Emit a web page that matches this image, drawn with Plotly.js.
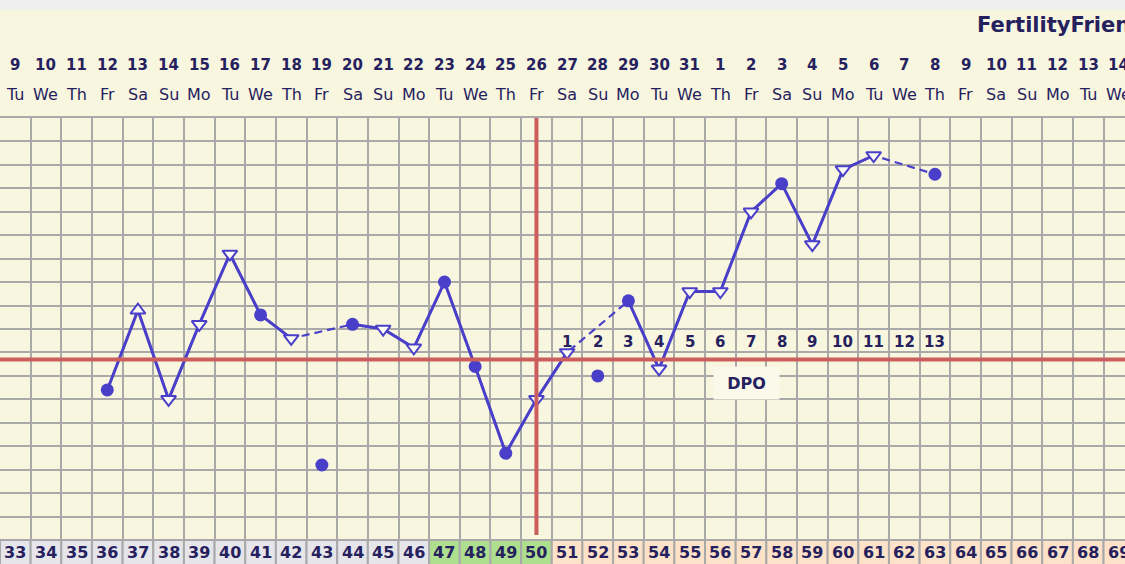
<!DOCTYPE html>
<html>
<head>
<meta charset="utf-8">
<script src="https://cdn.plot.ly/plotly-3.0.1.min.js"></script>
<style>html,body{margin:0;padding:0;background:#f8f6df;}#chart{width:1125px;height:564px;}</style>
</head>
<body>
<div id="chart"></div>
<script>
// ---- data ----
const dayLabels = [9,10,11,12,13,14,15,16,17,18,19,20,21,22,23,24,25,26,27,28,29,30,31,1,2,3,4,5,6,7,8,9,10,11,12,13,14];
const weekdayLabels = ['Tu','We','Th','Fr','Sa','Su','Mo','Tu','We','Th','Fr','Sa','Su','Mo','Tu','We','Th','Fr','Sa','Su','Mo','Tu','We','Th','Fr','Sa','Su','Mo','Tu','We','Th','Fr','Sa','Su','Mo','Tu','We'];
const cycleDays = [33,34,35,36,37,38,39,40,41,42,43,44,45,46,47,48,49,50,51,52,53,54,55,56,57,58,59,60,61,62,63,64,65,66,67,68,69];
const temps = [null,null,null,97.54,97.88,97.50,97.82,98.12,97.86,97.76,97.22,97.82,97.80,97.72,98.00,97.64,97.27,97.50,97.70,97.60,97.92,97.63,97.96,97.96,98.30,98.42,98.16,98.48,98.54,null,98.46,null,null,null,null,null,null];
// c = filled circle, d = open down triangle, u = open up triangle
const markerKinds = [null,null,null,'c','u','d','d','d','c','d','c','c','d','d','c','c','c','d','d','c','c','d','d','d','d','c','d','d','d',null,'c',null,null,null,null,null,null];
const discardedCycleDays = [43,52];
const fertileCycleDays = [47,48,49,50];
const ovulationCycleDay = 50;
const coverline = 97.67;
const dpoLabels = [1,2,3,4,5,6,7,8,9,10,11,12,13];
const brandText = 'FertilityFriend';

// ---- styling ----
const CREAM = '#f8f6df';
const NAVY = '#25215e';
const BLUE = '#4a3fc8';
const GRID = '#a9a9a9';
const RED = '#cd5e5e';
const FONT = 'DejaVu Sans, Verdana, sans-serif';
const TOP = 118, BOTTOM = 540, H = 564;
const plotH = BOTTOM - TOP;
const py = p => (BOTTOM - p) / plotH; // pixel row -> paper y

const idx = dayLabels.map((_, i) => i);
const isDiscarded = i => discardedCycleDays.includes(cycleDays[i]);

// dashed connector (underneath), all kept temps
const dashX = [], dashY = [];
idx.forEach(i => { if (temps[i] !== null && !isDiscarded(i)) { dashX.push(i); dashY.push(temps[i]); } });
const dashTrace = {x: dashX, y: dashY, mode: 'lines', line: {color: BLUE, width: 2.2, dash: '8px,5px'}, hoverinfo: 'skip'};

// solid lines between consecutive kept days
const solidTrace = {x: idx, y: idx.map(i => (temps[i] !== null && !isDiscarded(i)) ? temps[i] : null), mode: 'lines', connectgaps: false, line: {color: BLUE, width: 3}, hoverinfo: 'skip'};

// markers
const mx = [], my = [], msym = [], mcol = [], mlw = [];
idx.forEach(i => {
  if (temps[i] === null) return;
  const k = markerKinds[i];
  mx.push(i); my.push(temps[i]);
  if (k === 'c') { msym.push('circle'); mcol.push(BLUE); mlw.push(0); }
  else { msym.push(k === 'u' ? 'triangle-up' : 'triangle-down'); mcol.push('#fdfcf4'); mlw.push(2); }
});
const markerTrace = {x: mx, y: my, mode: 'markers', marker: {symbol: msym, color: mcol, size: 13, opacity: 1, line: {color: BLUE, width: mlw}}, hoverinfo: 'skip'};

const ovIdx = cycleDays.indexOf(ovulationCycleDay);

const shapes = [
  // top light-gray strip
  {type: 'rect', xref: 'paper', yref: 'paper', x0: 0, x1: 1, y0: py(10), y1: py(0), fillcolor: '#efefef', line: {width: 0}},
  // coverline
  {type: 'line', xref: 'paper', yref: 'y', x0: 0, x1: 1, y0: coverline, y1: coverline, line: {color: RED, width: 4}, layer: 'above'},
  // ovulation line
  {type: 'line', xref: 'x', yref: 'paper', x0: ovIdx, x1: ovIdx, y0: py(535), y1: 1, line: {color: RED, width: 4}, layer: 'above'}
];
// bottom cycle-day cells
idx.forEach(i => {
  const cd = cycleDays[i];
  let fill = '#e5e5ea';
  if (fertileCycleDays.includes(cd)) fill = '#addf8f';
  else if (cd > ovulationCycleDay) fill = '#fce2c8';
  shapes.push({type: 'rect', xref: 'x', yref: 'paper', x0: i - 0.5, x1: i + 0.5, y0: py(H + 2), y1: py(BOTTOM), fillcolor: fill, line: {color: GRID, width: 2}});
});

const annotations = [];
annotations.push({xref: 'paper', yref: 'paper', x: 975 / 1125, y: py(25), xanchor: 'left', yanchor: 'middle', text: '<b>' + brandText + '</b>', showarrow: false, font: {family: FONT, size: 21, color: NAVY}});
idx.forEach(i => {
  annotations.push({xref: 'x', yref: 'paper', x: i, y: py(65), yanchor: 'middle', text: '<b>' + dayLabels[i] + '</b>', showarrow: false, font: {family: FONT, size: 15, color: NAVY}});
  annotations.push({xref: 'x', yref: 'paper', x: i, y: py(95), yanchor: 'middle', text: weekdayLabels[i], showarrow: false, font: {family: FONT, size: 16, color: NAVY}});
  annotations.push({xref: 'x', yref: 'paper', x: i, y: py(552.5), yanchor: 'middle', text: '<b>' + cycleDays[i] + '</b>', showarrow: false, font: {family: FONT, size: 16, color: NAVY}});
});
dpoLabels.forEach((d, k) => {
  annotations.push({xref: 'x', yref: 'y', x: ovIdx + 1 + k, y: coverline, yanchor: 'middle', yshift: 17, text: '<b>' + d + '</b>', showarrow: false, font: {family: FONT, size: 15, color: NAVY}});
});
annotations.push({xref: 'x', yref: 'y', x: ovIdx + 6.84, y: coverline, yanchor: 'middle', yshift: -24, text: '<b>DPO</b>', showarrow: false, width: 63, height: 30, bgcolor: '#fbfaea', font: {family: FONT, size: 16, color: NAVY}});

const layout = {
  width: 1125, height: 564,
  margin: {l: 0, r: 0, t: TOP, b: H - BOTTOM, pad: 0},
  paper_bgcolor: CREAM, plot_bgcolor: CREAM,
  showlegend: false,
  xaxis: {range: [-0.5, 36.2], tick0: 0.5, dtick: 1, showgrid: true, gridcolor: GRID, gridwidth: 2, showticklabels: false, zeroline: false, ticks: '', showline: true, mirror: true, linecolor: GRID, linewidth: 2, fixedrange: true},
  yaxis: {range: [96.9, 98.7], tick0: 96.9, dtick: 0.1, showgrid: true, gridcolor: GRID, gridwidth: 2, showticklabels: false, zeroline: false, ticks: '', fixedrange: true},
  shapes: shapes,
  annotations: annotations
};

Plotly.newPlot('chart', [dashTrace, solidTrace, markerTrace], layout, {staticPlot: true, displayModeBar: false});
</script>
</body>
</html>
